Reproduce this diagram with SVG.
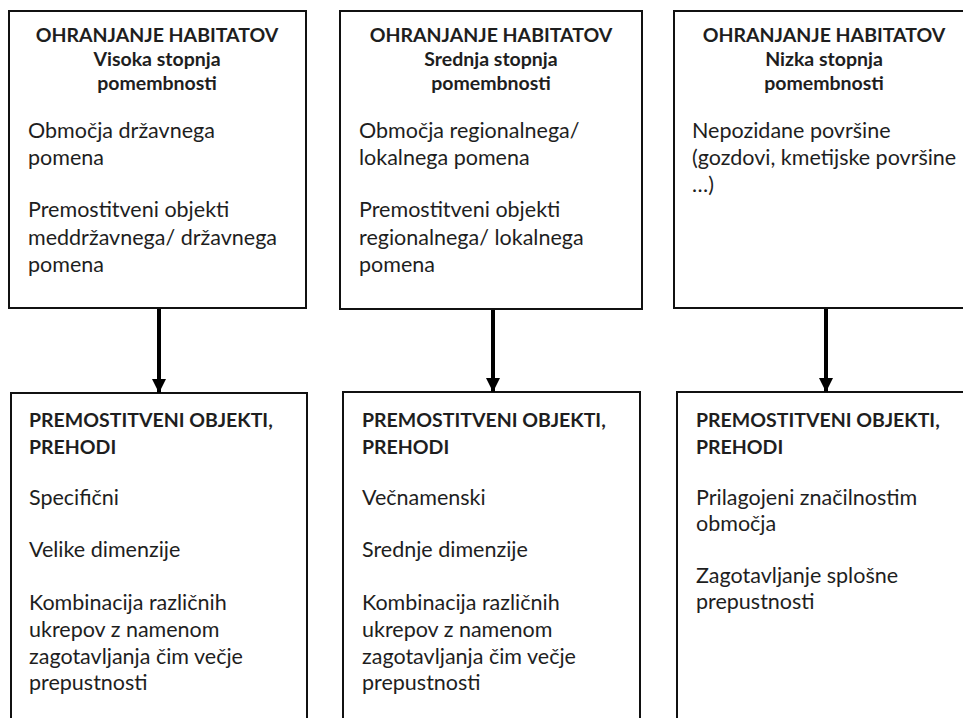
<svg xmlns="http://www.w3.org/2000/svg" width="963" height="718" viewBox="0 0 963 718">
<style>
.box{fill:#fff;stroke:#111;stroke-width:2}
text{font-family:Lato,"Open Sans","Liberation Sans",sans-serif;font-size:21.5px;fill:#1e1e1e}
.h{font-weight:bold;font-size:19.5px;text-anchor:middle}
.hb{font-weight:bold;font-size:19.5px}
.conn{stroke:#000;stroke-width:4;fill:none}
</style>
<defs>
<marker id="ah" markerUnits="userSpaceOnUse" markerWidth="14" markerHeight="14" viewBox="0 0 14 14" refX="14" refY="7" orient="auto">
<path d="M0,0 L14,7 L0,14 Z" fill="#000"/>
</marker>
</defs>
<rect width="963" height="718" fill="#fff"/>
<g id="n1">
<rect class="box" x="9" y="11" width="297" height="297"/>
<text class="h" x="157" y="42">OHRANJANJE HABITATOV</text>
<text class="h" x="157" y="66">Visoka stopnja</text>
<text class="h" x="157" y="90">pomembnosti</text>
<text x="28" y="138">Območja državnega</text>
<text x="28" y="165">pomena</text>
<text x="28" y="217">Premostitveni objekti</text>
<text x="28" y="245">meddržavnega/ državnega</text>
<text x="28" y="272">pomena</text>
</g>
<g id="n2">
<rect class="box" x="340" y="11" width="302" height="298"/>
<text class="h" x="491" y="42">OHRANJANJE HABITATOV</text>
<text class="h" x="491" y="66">Srednja stopnja</text>
<text class="h" x="491" y="90">pomembnosti</text>
<text x="359" y="138">Območja regionalnega/</text>
<text x="359" y="165">lokalnega pomena</text>
<text x="359" y="217">Premostitveni objekti</text>
<text x="359" y="245">regionalnega/ lokalnega</text>
<text x="359" y="272">pomena</text>
</g>
<g id="n3">
<rect class="box" x="674" y="11" width="300" height="297"/>
<text class="h" x="824" y="42">OHRANJANJE HABITATOV</text>
<text class="h" x="824" y="66">Nizka stopnja</text>
<text class="h" x="824" y="90">pomembnosti</text>
<text x="692" y="138">Nepozidane površine</text>
<text x="692" y="165">(gozdovi, kmetijske površine</text>
<text x="692" y="192">…)</text>
</g>
<g id="n4">
<rect class="box" x="11" y="393" width="296" height="340"/>
<text class="hb" x="29" y="427">PREMOSTITVENI OBJEKTI,</text>
<text class="hb" x="29" y="454">PREHODI</text>
<text x="29" y="505">Specifični</text>
<text x="29" y="557">Velike dimenzije</text>
<text x="29" y="610">Kombinacija različnih</text>
<text x="29" y="637">ukrepov z namenom</text>
<text x="29" y="664">zagotavljanja čim večje</text>
<text x="29" y="690">prepustnosti</text>
</g>
<g id="n5">
<rect class="box" x="343" y="392" width="297" height="340"/>
<text class="hb" x="362" y="427">PREMOSTITVENI OBJEKTI,</text>
<text class="hb" x="362" y="454">PREHODI</text>
<text x="362" y="505">Večnamenski</text>
<text x="362" y="557">Srednje dimenzije</text>
<text x="362" y="610">Kombinacija različnih</text>
<text x="362" y="637">ukrepov z namenom</text>
<text x="362" y="664">zagotavljanja čim večje</text>
<text x="362" y="690">prepustnosti</text>
</g>
<g id="n6">
<rect class="box" x="677" y="392" width="300" height="340"/>
<text class="hb" x="696" y="427">PREMOSTITVENI OBJEKTI,</text>
<text class="hb" x="696" y="454">PREHODI</text>
<text x="696" y="505">Prilagojeni značilnostim</text>
<text x="696" y="531">območja</text>
<text x="696" y="583">Zagotavljanje splošne</text>
<text x="696" y="609">prepustnosti</text>
</g>
<g id="connectors">
<line class="conn" x1="159" y1="309" x2="159" y2="393" marker-end="url(#ah)"/>
<line class="conn" x1="493" y1="310" x2="493" y2="392" marker-end="url(#ah)"/>
<line class="conn" x1="826" y1="309" x2="826" y2="392" marker-end="url(#ah)"/>
</g>
</svg>
